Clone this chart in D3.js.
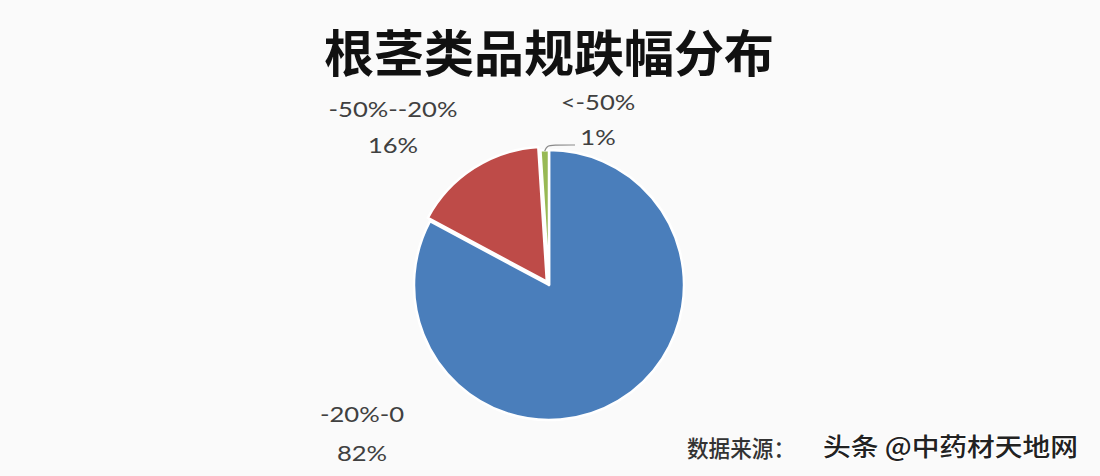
<!DOCTYPE html>
<html><head><meta charset="utf-8">
<script src="https://cdn.jsdelivr.net/npm/d3@7"></script>
<style>html,body{margin:0;padding:0;background:#fafafa;}</style>
</head><body>
<svg id="c" width="1100" height="476"></svg>
<script>
const title = "根茎类品规跌幅分布";
const categories = ["-20%-0", "-50%--20%", "<-50%"];
const values = [82, 16, 1];
const percentLabels = ["82%", "16%", "1%"];
const colors = ["#4a7ebb", "#be4b48", "#98b954"];
const sourceLabel = "数据来源：";
const watermark = "头条 @中药材天地网";

const svg = d3.select("#c");
svg.append("rect").attr("width",1100).attr("height",476).attr("fill","#fafafa");

svg.append("text").attr("x",549).attr("y",72).attr("text-anchor","middle")
  .attr("font-family","'Noto Sans CJK SC'").attr("font-weight",700)
  .attr("font-size",50).attr("fill","#111").text(title);

const cx = 549, cy = 285, r = 135;
const pie = d3.pie().sort(null).value(d=>d)(values);
const arc = d3.arc().innerRadius(0).outerRadius(r);
const g = svg.append("g").attr("transform",`translate(${cx},${cy})`);
const explode = [0, 4, 0];
g.selectAll("path").data(pie).join("path")
  .attr("transform",(d,i)=>{const a=(d.startAngle+d.endAngle)/2;return `translate(${Math.sin(a)*explode[i]},${-Math.cos(a)*explode[i]})`;})
  .attr("d",arc).attr("fill",(d,i)=>colors[i])
  .attr("stroke","#fff").attr("stroke-width",2.5).attr("stroke-linejoin","round");

// leader line for smallest slice
const gs = pie[2];
const ga = (gs.startAngle+gs.endAngle)/2;
const p0 = [Math.sin(ga)*r, -Math.cos(ga)*r];
g.append("path").attr("d",d3.line().curve(d3.curveBasis)([[p0[0],p0[1]+1],[p0[0]+2,-r-4],[p0[0]+8,-r-5],[26,-r-5]]))
  .attr("fill","none").attr("stroke","#8a8a8a").attr("stroke-width",1.2);

const lab = [
  {x:362, y1:422, y2:461},
  {x:393, y1:117, y2:153},
  {x:598, y1:110, y2:145}
];
const lf = "Lato, 'Open Sans', sans-serif";
function stretchedText(x, y, s){
  svg.append("g").attr("transform",`translate(${x},${y}) scale(1.22,1)`)
    .append("text").attr("text-anchor","middle")
    .attr("font-family",lf).attr("font-size",21).attr("fill","#404040").text(s);
}
lab.forEach((p,i)=>{
  stretchedText(p.x, p.y1, categories[i]);
  stretchedText(p.x, p.y2, percentLabels[i]);
});

svg.append("text").attr("x",687).attr("y",457)
  .attr("font-family","'Noto Sans CJK SC'").attr("font-weight",500).attr("font-size",23).attr("fill","#333")
  .attr("textLength",108).attr("lengthAdjust","spacingAndGlyphs").text(sourceLabel);
svg.append("text").attr("x",823).attr("y",456)
  .attr("font-family","'Noto Sans CJK SC'").attr("font-weight",500).attr("font-size",25).attr("fill","#222")
  .attr("stroke","#fff").attr("stroke-width",2).attr("paint-order","stroke")
  .attr("textLength",255).attr("lengthAdjust","spacingAndGlyphs").text(watermark);
</script>
</body></html>
